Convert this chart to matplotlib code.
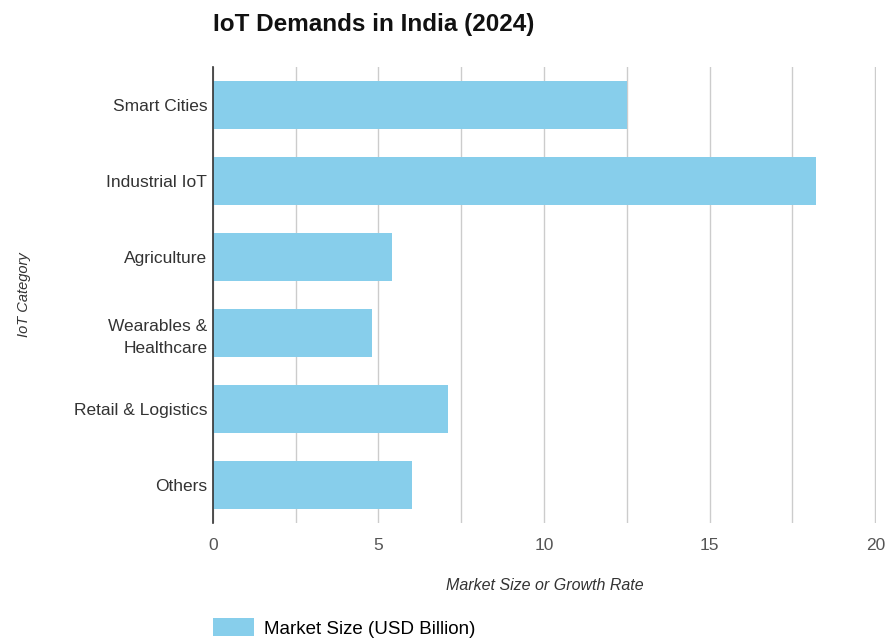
import matplotlib.pyplot as plt
import numpy as np

plt.rcParams['font.family'] = ['Liberation Sans', 'DejaVu Sans']

# Дані
categories = ['Smart Cities', 'Industrial IoT', 'Agriculture',
              'Wearables &\nHealthcare', 'Retail & Logistics', 'Others']
market_size = [12.5, 18.2, 5.4, 4.8, 7.1, 6.0]
x_ticks = [0, 5, 10, 15, 20]
series_label = 'Market Size (USD Billion)'

fig = plt.figure(figsize=(8.87, 6.42), dpi=100)
ax = fig.add_axes([0.240, 0.1854, 0.7475, 0.7102])

y = np.arange(len(categories))
ax.barh(y, market_size, height=0.62, color='#87CEEB', label=series_label, zorder=2)

ax.set_ylim(len(categories) - 0.5, -0.5)
ax.set_xlim(0, 20.02)
ax.set_yticks(y)
ax.set_yticklabels(categories, fontsize=12.5, color='#333333', linespacing=1.55)
ax.set_xticks(x_ticks)
ax.set_xticklabels([str(t) for t in x_ticks], fontsize=12.5, color='#555555')
ax.set_xticks(np.arange(0, 20.1, 2.5), minor=True)
ax.grid(True, axis='x', which='both', color='#cccccc', linewidth=1, zorder=0)
ax.tick_params(axis='both', which='both', length=0)
ax.tick_params(axis='x', pad=11)
ax.tick_params(axis='y', pad=4)

for side in ['top', 'right', 'bottom']:
    ax.spines[side].set_visible(False)
ax.spines['left'].set_color('#333333')
ax.spines['left'].set_linewidth(1.2)

ax.set_xlabel('Market Size or Growth Rate', fontsize=11.5, style='italic',
              color='#333333', labelpad=18)
ax.set_ylabel('IoT Category', fontsize=10.5, style='italic', color='#333333')
ax.yaxis.set_label_coords(-0.275, 0.5)

fig.text(213 / 887, 1 - 25 / 642, 'IoT Demands in India (2024)', fontsize=17.5,
         fontweight='bold', ha='left', va='center', color='#111111')

fig.legend(loc='center left', bbox_to_anchor=(196 / 887, 1 - 628 / 642),
           frameon=False, fontsize=13.5, handlelength=2.2, handleheight=1.1,
           handletextpad=0.5)

plt.savefig('out.png', dpi=100)
